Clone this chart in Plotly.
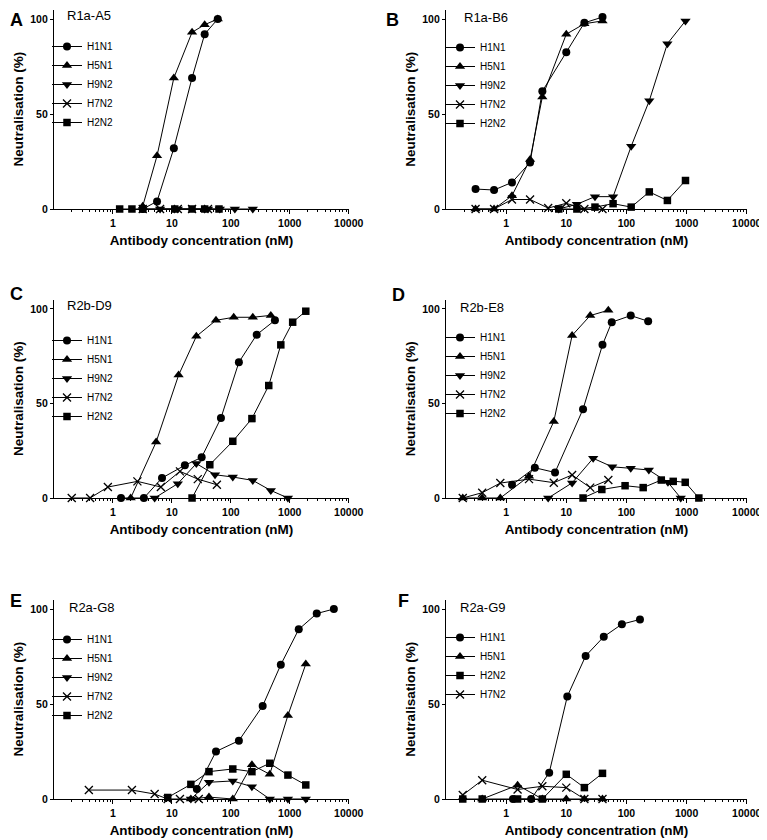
import plotly.graph_objects as go

FONT = "Liberation Sans, Arial, sans-serif"
# the page body adds an 8 px margin, so the figure is drawn 8 px smaller and
# all reference pixel positions are shifted by 8 px
OFF = 8
FW, FH = 767 - OFF, 840 - OFF

# ---------------- data (concentration nM, neutralisation %) ----------------
# Panel A: R1a-A5
A_H1N1_x = [3.2, 5.6, 10.8, 22, 36, 60]
A_H1N1_y = [0, 4, 32, 69, 92, 100]
A_H5N1_x = [3.2, 5.6, 10.8, 22, 36, 60]
A_H5N1_y = [1.5, 28, 69, 93, 97, 100]
A_H9N2_x = [6.3, 12.6, 41, 65, 117, 236]
A_H9N2_y = [0, 0, 0, 0, 0, 0]
A_H7N2_x = [3.2, 6.3, 12.6, 22, 41]
A_H7N2_y = [0, 0, 0, 0, 0]
A_H2N2_x = [1.3, 2.1, 3.2, 11.2, 22, 36, 63]
A_H2N2_y = [0, 0, 0, 0, 0, 0, 0]

# Panel B: R1a-B6
B_H1N1_x = [0.31, 0.63, 1.25, 2.5, 4.0, 10, 20, 40]
B_H1N1_y = [10.5, 10, 14, 24.5, 62, 82.5, 98, 101]
B_H5N1_x = [0.31, 0.63, 1.25, 2.5, 4.0, 10, 20, 40]
B_H5N1_y = [0, 0, 7, 26, 59, 92, 97.5, 99]
B_H9N2_x = [7.5, 15, 30, 60, 120, 240, 480, 960]
B_H9N2_y = [0, 2.5, 6.5, 6.5, 33, 57, 87, 99]
B_H7N2_x = [0.31, 0.63, 1.25, 2.5, 5, 10, 20, 40]
B_H7N2_y = [0, 0, 5, 5, 0.5, 3, 0, 0]
B_H2N2_x = [7.5, 15, 30, 60, 120, 240, 480, 960]
B_H2N2_y = [0, 0, 1, 2.8, 1, 9, 4.5, 15]

# Panel C: R2b-D9
C_H1N1_x = [1.37, 3.35, 6.8, 16.6, 32, 68, 137, 275, 560]
C_H1N1_y = [0, 0, 10.6, 17.3, 21.5, 42.3, 71.8, 86.4, 94]
C_H5N1_x = [2.0, 5.4, 13, 26, 56, 112, 236, 477]
C_H5N1_y = [0, 29.6, 65, 85.5, 94, 95.6, 95.6, 96.6]
C_H9N2_x = [5.1, 12.6, 26, 54, 108, 236, 477, 930]
C_H9N2_y = [0, 7.6, 18.2, 12.3, 11.1, 9.3, 4, 0]
C_H7N2_x = [0.2, 0.41, 0.82, 2.6, 6.5, 13.7, 27.5, 58]
C_H7N2_y = [0, 0, 5.8, 8.8, 5.8, 14.1, 10, 7]
C_H2N2_x = [22, 44, 108, 228, 440, 705, 1120, 1870]
C_H2N2_y = [0, 17.6, 30, 42, 59.5, 81, 93, 98.8]

# Panel D: R2b-E8
D_H1N1_x = [1.25, 3.0, 6.5, 19, 40, 57, 118, 230]
D_H1N1_y = [7, 16, 13.5, 47, 81, 93, 96.5, 93.5]
D_H5N1_x = [0.19, 0.4, 0.8, 2.4, 6.2, 12.5, 25, 50]
D_H5N1_y = [0, 0, 0, 11.5, 40.5, 86, 96.5, 99.3]
D_H9N2_x = [5, 12.5, 28, 58, 118, 236, 490, 800]
D_H9N2_y = [0, 8, 21, 16.5, 15.7, 14.8, 8.3, 0]
D_H7N2_x = [0.19, 0.4, 0.8, 2.4, 6.2, 12.5, 25, 50]
D_H7N2_y = [0, 2.8, 7.9, 10, 8.1, 12.2, 5.5, 9.5]
D_H2N2_x = [19, 39, 95, 190, 380, 600, 950, 1600]
D_H2N2_y = [0, 4.5, 6.5, 5.5, 9.5, 8.8, 8.3, 0]

# Panel E: R2a-G8
E_H1N1_x = [26.5, 56, 137, 347, 705, 1420, 2870, 5600]
E_H1N1_y = [5.3, 25, 30.7, 49, 70.7, 89.3, 97.6, 100]
E_H5N1_x = [21, 42.6, 108, 228, 458, 930, 1870]
E_H5N1_y = [0, 1, 0, 18, 13, 44, 71]
E_H9N2_x = [21, 42.6, 108, 228, 458, 930, 1870]
E_H9N2_y = [0, 8.8, 9.5, 6.5, 0, 0, 0]
E_H7N2_x = [0.39, 2.1, 5.1, 8.5, 13.7, 28.6]
E_H7N2_y = [4.7, 4.7, 2.6, 0, 0, 0]
E_H2N2_x = [8.5, 21, 42.6, 108, 228, 458, 930, 1870]
E_H2N2_y = [0.8, 7.7, 14.4, 15.8, 14.4, 18.8, 12.6, 7.4]

# Panel F: R2a-G9
F_H1N1_x = [1.3, 2.6, 5.2, 10.4, 21, 42, 84, 168]
F_H1N1_y = [0, 0, 13.8, 54, 75.3, 85.4, 92, 94.5]
F_H5N1_x = [0.4, 1.55, 4, 10, 20, 40]
F_H5N1_y = [0, 7.3, 0, 0, 0, 0]
F_H2N2_x = [0.19, 0.4, 1.55, 4, 10, 20, 40]
F_H2N2_y = [0, 0, 0, 0, 13, 6, 13.5]
F_H7N2_x = [0.19, 0.4, 1.55, 4, 10, 20, 40]
F_H7N2_y = [2.1, 9.9, 5, 6.7, 6, 0, 0]

panel_letters = ["A", "B", "C", "D", "E", "F"]
panel_names = ["R1a-A5", "R1a-B6", "R2b-D9", "R2b-E8", "R2a-G8", "R2a-G9"]
x_tick_vals = [1, 10, 100, 1000, 10000]
x_tick_text = ["1", "10", "100", "1000", "10000"]
y_tick_vals = [0, 50, 100]
y_tick_text = ["0", "50", "100"]

panel_series = [
    [("H1N1", A_H1N1_x, A_H1N1_y), ("H5N1", A_H5N1_x, A_H5N1_y), ("H9N2", A_H9N2_x, A_H9N2_y),
     ("H7N2", A_H7N2_x, A_H7N2_y), ("H2N2", A_H2N2_x, A_H2N2_y)],
    [("H1N1", B_H1N1_x, B_H1N1_y), ("H5N1", B_H5N1_x, B_H5N1_y), ("H9N2", B_H9N2_x, B_H9N2_y),
     ("H7N2", B_H7N2_x, B_H7N2_y), ("H2N2", B_H2N2_x, B_H2N2_y)],
    [("H1N1", C_H1N1_x, C_H1N1_y), ("H5N1", C_H5N1_x, C_H5N1_y), ("H9N2", C_H9N2_x, C_H9N2_y),
     ("H7N2", C_H7N2_x, C_H7N2_y), ("H2N2", C_H2N2_x, C_H2N2_y)],
    [("H1N1", D_H1N1_x, D_H1N1_y), ("H5N1", D_H5N1_x, D_H5N1_y), ("H9N2", D_H9N2_x, D_H9N2_y),
     ("H7N2", D_H7N2_x, D_H7N2_y), ("H2N2", D_H2N2_x, D_H2N2_y)],
    [("H1N1", E_H1N1_x, E_H1N1_y), ("H5N1", E_H5N1_x, E_H5N1_y), ("H9N2", E_H9N2_x, E_H9N2_y),
     ("H7N2", E_H7N2_x, E_H7N2_y), ("H2N2", E_H2N2_x, E_H2N2_y)],
    [("H1N1", F_H1N1_x, F_H1N1_y), ("H5N1", F_H5N1_x, F_H5N1_y), ("H2N2", F_H2N2_x, F_H2N2_y),
     ("H7N2", F_H7N2_x, F_H7N2_y)],
]

# ---------------- styling ----------------
SYMBOLS = {
    "H1N1": ("circle", 8),
    "H5N1": ("triangle-up", 9),
    "H9N2": ("triangle-down", 9),
    "H7N2": ("x-thin", 8),
    "H2N2": ("square", 7.5),
}

# pixel geometry (reference window pixels): (x_left, x_right), (y_bottom(0%), y_top)
col_px = [(54, 349), (446, 747)]
row_px = [(209, 9.5), (498, 299.5), (799, 599.5)]
legend_top_px = [32, 33, 326, 323, 625, 623]
legend_left_px = [47, 440]
# letter: (x_left, y, yanchor)
letter_pos = [(9, 9, "top"), (385, 9, "top"), (9, 294, "middle"),
              (391, 295, "middle"), (9, 601, "middle"), (397, 601, "middle")]
name_pos = [(65, 16, "middle"), (462, 17, "middle"), (65, 306, "middle"),
            (458, 307, "middle"), (67, 607, "middle"), (458, 607, "middle")]

minor_vals = [m * 10 ** d for d in range(-1, 4) for m in range(2, 10)]


def px_x(p):
    return (p - OFF) / FW


def px_y(p):
    return 1 - (p - OFF) / FH


fig = go.Figure()
layout = dict(
    width=FW, height=FH,
    margin=dict(l=0, r=0, t=0, b=0),
    paper_bgcolor="white", plot_bgcolor="white",
    font=dict(family=FONT, color="black"),
    annotations=[],
)

for i in range(6):
    col = i % 2
    row = i // 2
    sfx = "" if i == 0 else str(i + 1)
    leg = "legend" if i == 0 else f"legend{i + 1}"
    for name, xs, ys in panel_series[i]:
        sym, size = SYMBOLS[name]
        fig.add_trace(go.Scatter(
            x=xs, y=ys, mode="lines+markers", name=name,
            line=dict(color="black", width=1),
            marker=dict(symbol=sym, size=size, color="black",
                        line=dict(width=1.3 if sym == "x-thin" else 0, color="black")),
            xaxis="x" + sfx, yaxis="y" + sfx, legend=leg, cliponaxis=False,
        ))

    xl, xr = col_px[col]
    yb, yt = row_px[row]
    layout["xaxis" + sfx] = dict(
        domain=[px_x(xl), px_x(xr)], anchor="y" + sfx, type="log", range=[-1, 4.005],
        showline=True, linecolor="black", linewidth=1.3, showgrid=False, zeroline=False,
        tickmode="array", tickvals=x_tick_vals, ticktext=x_tick_text,
        ticks="outside", ticklen=4, tickwidth=1.2, tickcolor="black",
        tickfont=dict(family=FONT, size=10.5, color="black", weight="bold"),
        minor=dict(tickmode="array", tickvals=minor_vals, ticks="outside", ticklen=2,
                   tickwidth=1, tickcolor="black", showgrid=False),
        title=dict(text="Antibody concentration (nM)", standoff=7,
                   font=dict(family=FONT, size=13.5, color="black", weight="bold")),
        automargin=False, fixedrange=True,
    )
    layout["yaxis" + sfx] = dict(
        domain=[px_y(yb), px_y(yt)], anchor="x" + sfx, range=[0, 105],
        showline=True, linecolor="black", linewidth=1.3, showgrid=False, zeroline=False,
        tickmode="array", tickvals=y_tick_vals, ticktext=y_tick_text,
        ticks="outside", ticklen=3, tickwidth=1.2, tickcolor="black",
        tickfont=dict(family=FONT, size=10.5, color="black", weight="bold"),
        title=dict(text="Neutralisation (%)", standoff=3,
                   font=dict(family=FONT, size=13.5, color="black", weight="bold")),
        automargin=False, fixedrange=True,
    )
    layout[leg] = dict(
        x=px_x(legend_left_px[col]), y=px_y(legend_top_px[i]),
        xanchor="left", yanchor="top", bgcolor="rgba(0,0,0,0)",
        font=dict(family=FONT, size=10, color="black"),
        itemwidth=30, tracegroupgap=0,
    )
    lx, ly, lanchor = letter_pos[i]
    layout["annotations"].append(dict(
        text=f"<b>{panel_letters[i]}</b>", xref="paper", yref="paper",
        x=px_x(lx), y=px_y(ly), xanchor="left", yanchor=lanchor, showarrow=False,
        borderpad=0, font=dict(family=FONT, size=18, color="black"),
    ))
    nx, ny, nanchor = name_pos[i]
    layout["annotations"].append(dict(
        text=panel_names[i], xref="paper", yref="paper",
        x=px_x(nx), y=px_y(ny), xanchor="left", yanchor=nanchor, showarrow=False,
        font=dict(family=FONT, size=13, color="black"),
    ))

fig.update_layout(**layout)
fig.write_html("out.html")
